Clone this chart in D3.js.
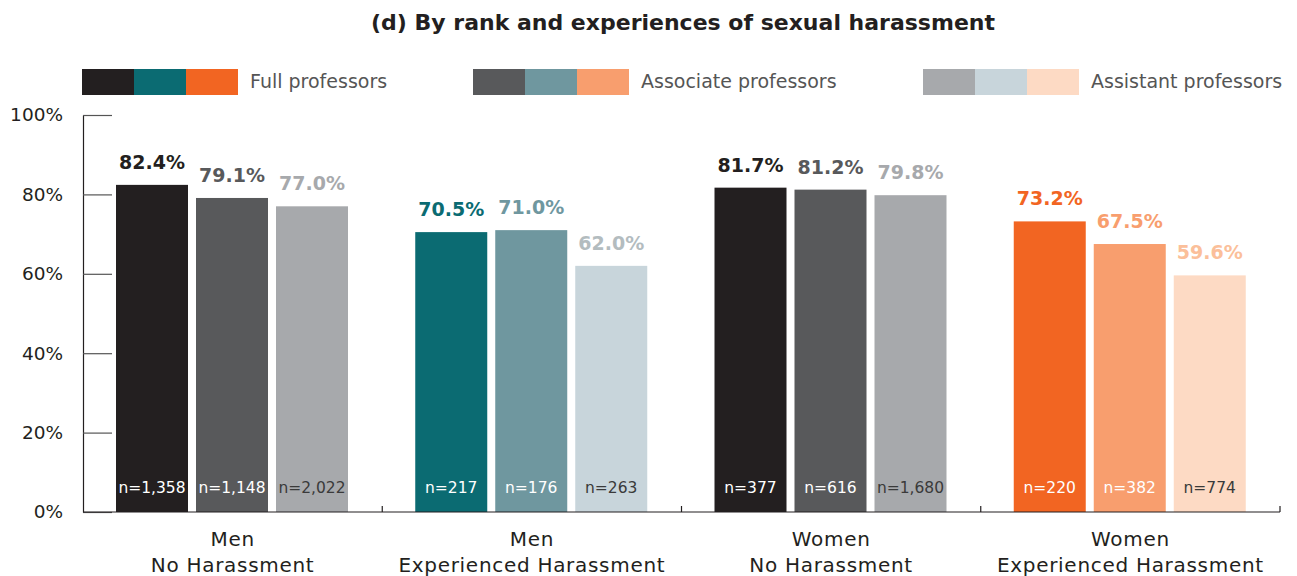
<!DOCTYPE html>
<html>
<head>
<meta charset="utf-8">
<script src="https://cdn.jsdelivr.net/npm/d3@7"></script>
<style>
  html, body { margin: 0; padding: 0; background: #fff; }
  svg { display: block; font-family: "DejaVu Sans", sans-serif; }
</style>
</head>
<body>
<svg id="chart" width="1297" height="576"></svg>
<script>
// Share of faculty, by rank, grouped by gender and harassment experience
const groups = ["Men\nNo Harassment", "Men\nExperienced Harassment", "Women\nNo Harassment", "Women\nExperienced Harassment"];
const ranks = ["Full professors", "Associate professors", "Assistant professors"];
const fullValues = [82.4, 70.5, 81.7, 73.2];
const assocValues = [79.1, 71.0, 81.2, 67.5];
const asstValues = [77.0, 62.0, 79.8, 59.6];
const fullN = ["1,358", "217", "377", "220"];
const assocN = ["1,148", "176", "616", "382"];
const asstN = ["2,022", "263", "1,680", "774"];
const yTicks = [0, 20, 40, 60, 80, 100];

// Palette per group (rows) and rank (columns)
const barColors = [
  ["#231f20", "#58595b", "#a7a9ac"],
  ["#0b6b72", "#6f979f", "#c8d5db"],
  ["#231f20", "#58595b", "#a7a9ac"],
  ["#f26522", "#f89e6e", "#fddac4"]
];
const valueColors = [
  ["#231f20", "#58595b", "#a7a9ac"],
  ["#0b6b72", "#6f979f", "#b3bcbf"],
  ["#231f20", "#58595b", "#a7a9ac"],
  ["#f26522", "#f89e6e", "#fbbf9a"]
];
const nColors = ["#ffffff", "#ffffff", "#3a3a3a"];

const rows = groups.map((g, i) => ({
  group: g,
  gi: i,
  bars: [fullValues[i], assocValues[i], asstValues[i]].map((v, r) => ({
    rank: ranks[r], ri: r, value: v, gi: i,
    n: [fullN, assocN, asstN][r][i]
  }))
}));

const svg = d3.select("#chart");
const margin = { left: 83, right: 1280, top: 115, bottom: 512 };

const x0 = d3.scaleBand().domain(d3.range(groups.length)).range([margin.left, margin.right]);
const x1 = d3.scaleBand().domain(d3.range(ranks.length)).range([33, 33 + 232]).paddingInner(0.1);
const y = d3.scaleLinear().domain([0, 100]).range([margin.bottom, margin.top]);

// Title
svg.append("text")
  .attr("x", 683).attr("y", 30)
  .attr("text-anchor", "middle")
  .attr("font-size", 22).attr("font-weight", 700).attr("fill", "#231f20")
  .text("(d) By rank and experiences of sexual harassment");

// Legend: three swatches per rank, one from each palette family
const legendX = [82, 473, 923];
ranks.forEach((rk, r) => {
  const lg = svg.append("g").attr("transform", `translate(${legendX[r]},69)`);
  [barColors[0][r], barColors[1][r], barColors[3][r]].forEach((c, k) => {
    lg.append("rect").attr("x", k * 52).attr("y", 0).attr("width", 52).attr("height", 26).attr("fill", c);
  });
  lg.append("text").attr("x", 168).attr("y", 19)
    .attr("font-size", 19).attr("fill", "#555").text(rk);
});

// Y axis
const yAxis = d3.axisLeft(y).tickValues(yTicks).tickFormat(d => d + "%").tickSize(0).tickPadding(20);
const yg = svg.append("g").attr("transform", `translate(${margin.left},0)`).call(yAxis);
yg.select(".domain").attr("stroke", "#231f20").attr("stroke-width", 1.2);
yg.selectAll(".tick text").attr("font-size", 18.5).attr("fill", "#231f20").attr("font-family", "DejaVu Sans, sans-serif");
yg.selectAll(".tick").append("line").attr("x1", 0).attr("x2", 29).attr("stroke", "#555").attr("stroke-width", 1.2);

// Bars
const gGroups = svg.append("g").selectAll("g").data(rows).join("g")
  .attr("transform", d => `translate(${x0(d.gi)},0)`);

gGroups.selectAll("rect").data(d => d.bars).join("rect")
  .attr("x", d => x1(d.ri))
  .attr("width", x1.bandwidth())
  .attr("y", d => y(d.value))
  .attr("height", d => y(0) - y(d.value))
  .attr("fill", d => barColors[d.gi][d.ri]);

// Value labels
gGroups.selectAll("text.val").data(d => d.bars).join("text")
  .attr("class", "val")
  .attr("x", d => x1(d.ri) + x1.bandwidth() / 2)
  .attr("y", d => y(d.value) - 16)
  .attr("text-anchor", "middle")
  .attr("font-size", 19).attr("font-weight", 700)
  .attr("fill", d => valueColors[d.gi][d.ri])
  .text(d => d.value.toFixed(1) + "%");

// Sample size labels
gGroups.selectAll("text.n").data(d => d.bars).join("text")
  .attr("class", "n")
  .attr("x", d => x1(d.ri) + x1.bandwidth() / 2)
  .attr("y", y(0) - 19)
  .attr("text-anchor", "middle")
  .attr("font-size", 15.5)
  .attr("fill", d => nColors[d.ri])
  .text(d => "n=" + d.n);

// Baseline with group separators
const base = svg.append("g");
base.append("line").attr("x1", margin.left).attr("x2", margin.right)
  .attr("y1", y(0)).attr("y2", y(0)).attr("stroke", "#231f20").attr("stroke-width", 1.2);
d3.range(1, groups.length + 1).forEach(i => {
  const xx = i < groups.length ? x0(i) : margin.right;
  base.append("line").attr("x1", xx).attr("x2", xx).attr("y1", y(0)).attr("y2", y(0) - 6)
    .attr("stroke", "#231f20").attr("stroke-width", 1.2);
});

// Group labels
gGroups.each(function(d) {
  const t = d3.select(this).append("text")
    .attr("text-anchor", "middle")
    .attr("font-size", 20).attr("letter-spacing", 0.7).attr("fill", "#231f20");
  d.group.split("\n").forEach((line, k) => {
    t.append("tspan").attr("x", x0.bandwidth() / 2).attr("y", 546 + k * 26).text(line);
  });
});
</script>
</body>
</html>
